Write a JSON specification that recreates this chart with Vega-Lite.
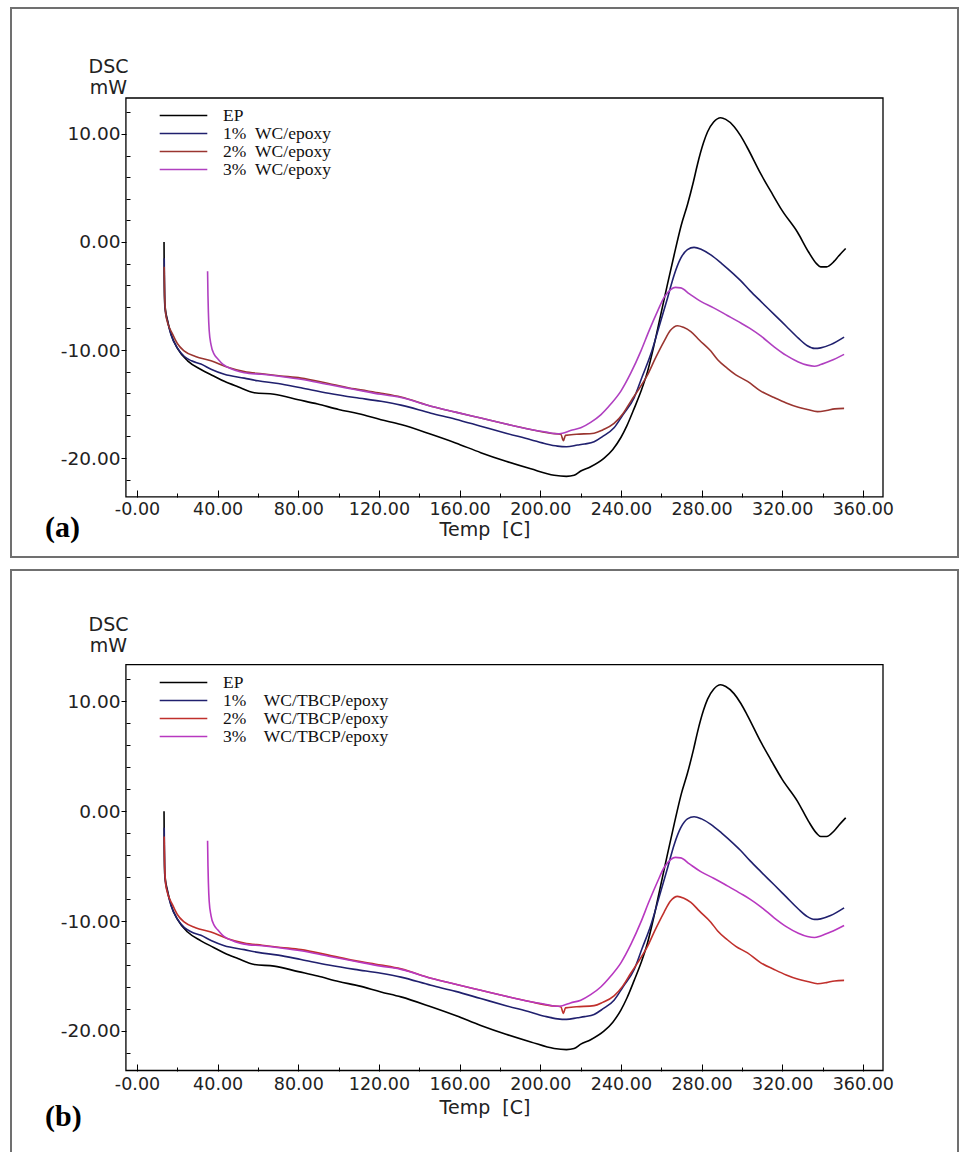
{
  "$schema": "https://vega.github.io/schema/vega-lite/v6.json",
  "padding": {"left": 10, "top": 7, "right": 0, "bottom": 0},
  "background": "white",
  "spacing": 11,
  "config": {
    "view": {"stroke": "#707070", "strokeWidth": 2},
    "axis": {"labelFont": "DejaVu Sans", "labelFontSize": 17.5, "labelColor": "#222", "titleFont": "DejaVu Sans", "titleFontWeight": "normal", "titleFontSize": 19, "titleColor": "#222", "grid": false, "domain": false, "tickColor": "#000", "tickWidth": 1},
    "legend": {"orient": "none", "title": null, "symbolType": "M-2.8,0H2.8", "symbolSize": 289, "symbolStrokeWidth": 1.6, "labelFont": "Liberation Serif", "labelFontSize": 17.5, "labelColor": "#111", "rowPadding": -2, "labelOffset": 30, "labelLimit": 400, "padding": 0}
  },
  "datasets": {
    "dsc": [
      {"s":"EP","t":13.4,"v":0},{"s":"EP","t":13.5,"v":-3},{"s":"EP","t":13.8,"v":-5.8},{"s":"EP","t":15.2,"v":-7.3},{"s":"EP","t":16.9,"v":-8.55},{"s":"EP","t":20.2,"v":-9.9},{"s":"EP","t":25.1,"v":-11.0},{"s":"EP","t":31.7,"v":-11.8},{"s":"EP","t":38,"v":-12.4},{"s":"EP","t":43.3,"v":-12.9},{"s":"EP","t":50,"v":-13.4},{"s":"EP","t":58.2,"v":-13.95},{"s":"EP","t":68,"v":-14.1},{"s":"EP","t":80,"v":-14.6},{"s":"EP","t":89.6,"v":-15.0},{"s":"EP","t":100,"v":-15.5},{"s":"EP","t":110,"v":-15.9},{"s":"EP","t":121,"v":-16.45},{"s":"EP","t":130.9,"v":-16.9},{"s":"EP","t":145.8,"v":-17.8},{"s":"EP","t":158,"v":-18.6},{"s":"EP","t":170.5,"v":-19.5},{"s":"EP","t":183,"v":-20.3},{"s":"EP","t":195.3,"v":-21.0},{"s":"EP","t":206.9,"v":-21.6},{"s":"EP","t":213,"v":-21.7},{"s":"EP","t":216.8,"v":-21.6},{"s":"EP","t":220.1,"v":-21.2},{"s":"EP","t":225,"v":-20.8},{"s":"EP","t":231.7,"v":-20.0},{"s":"EP","t":236,"v":-19.2},{"s":"EP","t":240,"v":-18.1},{"s":"EP","t":243,"v":-17.0},{"s":"EP","t":246.6,"v":-15.4},{"s":"EP","t":250,"v":-13.8},{"s":"EP","t":253.2,"v":-12.0},{"s":"EP","t":256.5,"v":-9.5},{"s":"EP","t":259.8,"v":-6.7},{"s":"EP","t":263,"v":-4.0},{"s":"EP","t":266.4,"v":-1.2},{"s":"EP","t":270,"v":1.6},{"s":"EP","t":273,"v":3.45},{"s":"EP","t":276,"v":5.6},{"s":"EP","t":278,"v":7.2},{"s":"EP","t":281,"v":9.2},{"s":"EP","t":283,"v":10.2},{"s":"EP","t":286,"v":11.1},{"s":"EP","t":289.5,"v":11.5},{"s":"EP","t":292,"v":11.35},{"s":"EP","t":296.1,"v":10.7},{"s":"EP","t":299.5,"v":9.8},{"s":"EP","t":302.8,"v":8.7},{"s":"EP","t":309.4,"v":6.3},{"s":"EP","t":314.3,"v":4.7},{"s":"EP","t":320,"v":2.9},{"s":"EP","t":327.6,"v":0.9},{"s":"EP","t":333,"v":-0.9},{"s":"EP","t":337,"v":-2.0},{"s":"EP","t":339.1,"v":-2.3},{"s":"EP","t":342,"v":-2.3},{"s":"EP","t":345.7,"v":-1.8},{"s":"EP","t":348,"v":-1.3},{"s":"EP","t":351.5,"v":-0.6},
      {"s":"1%","t":13.5,"v":-1.5},{"s":"1%","t":13.8,"v":-6},{"s":"1%","t":15.2,"v":-7.4},{"s":"1%","t":16.9,"v":-8.6},{"s":"1%","t":20,"v":-9.8},{"s":"1%","t":23.5,"v":-10.6},{"s":"1%","t":27,"v":-11.0},{"s":"1%","t":31.7,"v":-11.3},{"s":"1%","t":37,"v":-11.8},{"s":"1%","t":43.3,"v":-12.25},{"s":"1%","t":53.2,"v":-12.6},{"s":"1%","t":60,"v":-12.85},{"s":"1%","t":70,"v":-13.1},{"s":"1%","t":81.3,"v":-13.5},{"s":"1%","t":95,"v":-14.0},{"s":"1%","t":108,"v":-14.4},{"s":"1%","t":121,"v":-14.75},{"s":"1%","t":130.9,"v":-15.1},{"s":"1%","t":145.8,"v":-15.85},{"s":"1%","t":158,"v":-16.4},{"s":"1%","t":170.5,"v":-17.05},{"s":"1%","t":183,"v":-17.7},{"s":"1%","t":195.3,"v":-18.3},{"s":"1%","t":203,"v":-18.7},{"s":"1%","t":208.6,"v":-18.9},{"s":"1%","t":213,"v":-18.95},{"s":"1%","t":218.5,"v":-18.8},{"s":"1%","t":222,"v":-18.7},{"s":"1%","t":226.7,"v":-18.5},{"s":"1%","t":231,"v":-18.0},{"s":"1%","t":236.6,"v":-17.2},{"s":"1%","t":241,"v":-16.0},{"s":"1%","t":246.6,"v":-14.4},{"s":"1%","t":250.5,"v":-12.5},{"s":"1%","t":254.8,"v":-10.4},{"s":"1%","t":259,"v":-7.8},{"s":"1%","t":263.1,"v":-5.2},{"s":"1%","t":266.5,"v":-3.0},{"s":"1%","t":269.7,"v":-1.5},{"s":"1%","t":273,"v":-0.7},{"s":"1%","t":276.3,"v":-0.5},{"s":"1%","t":280,"v":-0.7},{"s":"1%","t":284.6,"v":-1.2},{"s":"1%","t":290,"v":-2.0},{"s":"1%","t":296.1,"v":-3.0},{"s":"1%","t":299.5,"v":-3.6},{"s":"1%","t":304,"v":-4.5},{"s":"1%","t":309.4,"v":-5.5},{"s":"1%","t":316,"v":-6.7},{"s":"1%","t":322,"v":-7.8},{"s":"1%","t":328,"v":-8.9},{"s":"1%","t":332.5,"v":-9.6},{"s":"1%","t":336,"v":-9.85},{"s":"1%","t":339.1,"v":-9.8},{"s":"1%","t":344,"v":-9.5},{"s":"1%","t":350.7,"v":-8.8},
      {"s":"2%","t":13.5,"v":-2.3},{"s":"2%","t":13.7,"v":-5},{"s":"2%","t":14.5,"v":-7.0},{"s":"2%","t":17.7,"v":-8.55},{"s":"2%","t":20,"v":-9.4},{"s":"2%","t":23.5,"v":-10.1},{"s":"2%","t":29,"v":-10.6},{"s":"2%","t":36.7,"v":-11.0},{"s":"2%","t":45,"v":-11.6},{"s":"2%","t":53.2,"v":-12.0},{"s":"2%","t":62,"v":-12.2},{"s":"2%","t":71.4,"v":-12.4},{"s":"2%","t":81.3,"v":-12.6},{"s":"2%","t":95,"v":-13.1},{"s":"2%","t":108,"v":-13.6},{"s":"2%","t":121,"v":-14.0},{"s":"2%","t":130.9,"v":-14.35},{"s":"2%","t":145.8,"v":-15.2},{"s":"2%","t":158,"v":-15.75},{"s":"2%","t":170.5,"v":-16.3},{"s":"2%","t":183,"v":-16.85},{"s":"2%","t":195.3,"v":-17.35},{"s":"2%","t":205,"v":-17.7},{"s":"2%","t":210.2,"v":-17.8},{"s":"2%","t":211.5,"v":-18.4},{"s":"2%","t":212.5,"v":-17.9},{"s":"2%","t":218,"v":-17.8},{"s":"2%","t":226.7,"v":-17.7},{"s":"2%","t":231,"v":-17.4},{"s":"2%","t":236.6,"v":-16.8},{"s":"2%","t":241,"v":-15.9},{"s":"2%","t":244.9,"v":-14.75},{"s":"2%","t":249,"v":-13.6},{"s":"2%","t":253.2,"v":-12.3},{"s":"2%","t":257,"v":-10.8},{"s":"2%","t":261.4,"v":-9.2},{"s":"2%","t":264.5,"v":-8.2},{"s":"2%","t":268.1,"v":-7.75},{"s":"2%","t":271,"v":-7.9},{"s":"2%","t":274.7,"v":-8.3},{"s":"2%","t":279,"v":-9.1},{"s":"2%","t":284.6,"v":-10.1},{"s":"2%","t":288,"v":-10.9},{"s":"2%","t":292.8,"v":-11.7},{"s":"2%","t":297,"v":-12.3},{"s":"2%","t":302.8,"v":-12.9},{"s":"2%","t":309.4,"v":-13.8},{"s":"2%","t":316,"v":-14.4},{"s":"2%","t":322,"v":-14.9},{"s":"2%","t":328,"v":-15.3},{"s":"2%","t":332.5,"v":-15.5},{"s":"2%","t":337.5,"v":-15.7},{"s":"2%","t":342,"v":-15.6},{"s":"2%","t":346,"v":-15.45},{"s":"2%","t":350.7,"v":-15.4},
      {"s":"3%","t":35.0,"v":-2.7},{"s":"3%","t":35.2,"v":-5},{"s":"3%","t":35.4,"v":-6.5},{"s":"3%","t":35.8,"v":-8.2},{"s":"3%","t":36.7,"v":-9.5},{"s":"3%","t":38.3,"v":-10.4},{"s":"3%","t":40,"v":-10.8},{"s":"3%","t":42.5,"v":-11.3},{"s":"3%","t":45,"v":-11.6},{"s":"3%","t":49,"v":-11.9},{"s":"3%","t":53.2,"v":-12.1},{"s":"3%","t":62,"v":-12.25},{"s":"3%","t":71.4,"v":-12.45},{"s":"3%","t":81.3,"v":-12.7},{"s":"3%","t":95,"v":-13.2},{"s":"3%","t":108,"v":-13.65},{"s":"3%","t":121,"v":-14.1},{"s":"3%","t":130.9,"v":-14.4},{"s":"3%","t":145.8,"v":-15.2},{"s":"3%","t":158,"v":-15.75},{"s":"3%","t":170.5,"v":-16.3},{"s":"3%","t":183,"v":-16.85},{"s":"3%","t":195.3,"v":-17.35},{"s":"3%","t":203,"v":-17.6},{"s":"3%","t":208,"v":-17.75},{"s":"3%","t":211,"v":-17.7},{"s":"3%","t":215,"v":-17.45},{"s":"3%","t":220.1,"v":-17.2},{"s":"3%","t":225,"v":-16.7},{"s":"3%","t":230,"v":-16.0},{"s":"3%","t":235,"v":-15.0},{"s":"3%","t":240,"v":-13.8},{"s":"3%","t":245,"v":-12.1},{"s":"3%","t":249.9,"v":-10.1},{"s":"3%","t":254,"v":-8.2},{"s":"3%","t":258.2,"v":-6.4},{"s":"3%","t":261.5,"v":-5.1},{"s":"3%","t":264.7,"v":-4.4},{"s":"3%","t":267,"v":-4.2},{"s":"3%","t":269.7,"v":-4.25},{"s":"3%","t":274,"v":-4.8},{"s":"3%","t":279.6,"v":-5.5},{"s":"3%","t":286,"v":-6.1},{"s":"3%","t":292.8,"v":-6.8},{"s":"3%","t":299.5,"v":-7.5},{"s":"3%","t":304,"v":-8.0},{"s":"3%","t":309.4,"v":-8.7},{"s":"3%","t":316,"v":-9.7},{"s":"3%","t":322,"v":-10.5},{"s":"3%","t":328,"v":-11.1},{"s":"3%","t":332.5,"v":-11.4},{"s":"3%","t":336,"v":-11.5},{"s":"3%","t":339.1,"v":-11.35},{"s":"3%","t":344,"v":-11.0},{"s":"3%","t":350.7,"v":-10.4}
    ]
  },
  "vconcat": [
    {
      "width": 947,
      "height": 549,
      "title": {"text": "(a)", "orient": "bottom", "anchor": "start", "frame": "group", "offset": -44, "dx": 34, "font": "Liberation Serif", "fontSize": 30, "fontWeight": "bold", "color": "#000"},
      "resolve": {"axis": {"x": "independent", "y": "independent"}},
      "layer": [
        {
          "data": {"values": [{}]},
          "mark": {"type": "rect", "fill": "transparent", "stroke": "#000", "strokeWidth": 1.3},
          "encoding": {
            "x": {"datum": -5.5, "type": "quantitative", "scale": {"domain": [-62.5, 407.2], "nice": false, "zero": false},
              "axis": {"orient": "bottom", "offset": -60, "values": [20,60,100,140,180,220,260,300,340], "labels": false, "tickSize": -4, "title": null}},
            "x2": {"datum": 370},
            "y": {"datum": -23.6, "type": "quantitative", "scale": {"domain": [-29.16, 21.66], "nice": false, "zero": false},
              "axis": {"orient": "left", "offset": -115, "values": [-22,-18,-16,-14,-12,-8,-6,-4,-2,2,4,6,8,12], "labels": false, "tickSize": -4, "title": null}},
            "y2": {"datum": 13.33}
          }
        },
        {
          "data": {"name": "dsc"},
          "mark": {"type": "line", "strokeWidth": 1.6, "interpolate": "monotone"},
          "encoding": {
            "x": {"field": "t", "type": "quantitative", "scale": {"domain": [-62.5, 407.2], "nice": false, "zero": false},
              "axis": {"orient": "bottom", "offset": -60, "values": [0,40,80,120,160,200,240,280,320,360],
                "labelExpr": "datum.value === 0 ? '-0.00' : format(datum.value, '.2f')",
                "tickSize": -7, "labelPadding": 10, "title": "Temp\u00a0 [C]", "titlePadding": 3}},
            "y": {"field": "v", "type": "quantitative", "scale": {"domain": [-29.16, 21.66], "nice": false, "zero": false},
              "axis": {"orient": "left", "offset": -115, "values": [-20,-10,0,10],
                "labelExpr": "datum.value < 0 ? '-' + format(-datum.value, '.2f') : format(datum.value, '.2f')",
                "labelFontSize": 18.5, "tickSize": 5, "labelPadding": 1,
                "title": ["DSC", "mW"], "titleAngle": 0, "titleX": -18, "titleY": 49, "titleAlign": "center", "titleBaseline": "top", "titleLineHeight": 21}},
            "color": {"field": "s", "type": "nominal", "scale": {"domain": ["EP", "1%", "2%", "3%"], "range": ["#000000", "#20206e", "#9a3530", "#b040c0"]},
              "legend": {"legendX": 163, "legendY": 98, "labelExpr": "datum.label === 'EP' ? 'EP' : datum.label + '\u00a0\u00a0WC/epoxy'"}}
          }
        }
      ]
    },
    {
      "width": 947,
      "height": 584,
      "title": {"text": "(b)", "orient": "bottom", "anchor": "start", "frame": "group", "offset": -52, "dx": 34, "font": "Liberation Serif", "fontSize": 30, "fontWeight": "bold", "color": "#000"},
      "resolve": {"axis": {"x": "independent", "y": "independent"}},
      "layer": [
        {
          "data": {"values": [{}]},
          "mark": {"type": "rect", "fill": "transparent", "stroke": "#000", "strokeWidth": 1.3},
          "encoding": {
            "x": {"datum": -5.5, "type": "quantitative", "scale": {"domain": [-62.5, 407.2], "nice": false, "zero": false},
              "axis": {"orient": "bottom", "offset": -83, "values": [20,60,100,140,180,220,260,300,340], "labels": false, "tickSize": -4, "title": null}},
            "x2": {"datum": 370},
            "y": {"datum": -23.6, "type": "quantitative", "scale": {"domain": [-31.2, 21.95], "nice": false, "zero": false},
              "axis": {"orient": "left", "offset": -115, "values": [-22,-18,-16,-14,-12,-8,-6,-4,-2,2,4,6,8,12], "labels": false, "tickSize": -4, "title": null}},
            "y2": {"datum": 13.33}
          }
        },
        {
          "data": {"name": "dsc"},
          "mark": {"type": "line", "strokeWidth": 1.6, "interpolate": "monotone"},
          "encoding": {
            "x": {"field": "t", "type": "quantitative", "scale": {"domain": [-62.5, 407.2], "nice": false, "zero": false},
              "axis": {"orient": "bottom", "offset": -83, "values": [0,40,80,120,160,200,240,280,320,360],
                "labelExpr": "datum.value === 0 ? '-0.00' : format(datum.value, '.2f')",
                "tickSize": -7, "labelPadding": 11, "title": "Temp\u00a0 [C]", "titlePadding": 6}},
            "y": {"field": "v", "type": "quantitative", "scale": {"domain": [-31.2, 21.95], "nice": false, "zero": false},
              "axis": {"orient": "left", "offset": -115, "values": [-20,-10,0,10],
                "labelExpr": "datum.value < 0 ? '-' + format(-datum.value, '.2f') : format(datum.value, '.2f')",
                "labelFontSize": 18.5, "tickSize": 5, "labelPadding": 1,
                "title": ["DSC", "mW"], "titleAngle": 0, "titleX": -18, "titleY": 45, "titleAlign": "center", "titleBaseline": "top", "titleLineHeight": 21}},
            "color": {"field": "s", "type": "nominal", "scale": {"domain": ["EP", "1%", "2%", "3%"], "range": ["#000000", "#20206e", "#c0302c", "#b838c0"]},
              "legend": {"legendX": 163, "legendY": 103, "labelExpr": "datum.label === 'EP' ? 'EP' : datum.label + '\u00a0\u00a0\u00a0\u00a0WC/TBCP/epoxy'"}}
          }
        }
      ]
    }
  ],
  "resolve": {"scale": {"color": "independent"}}
}
